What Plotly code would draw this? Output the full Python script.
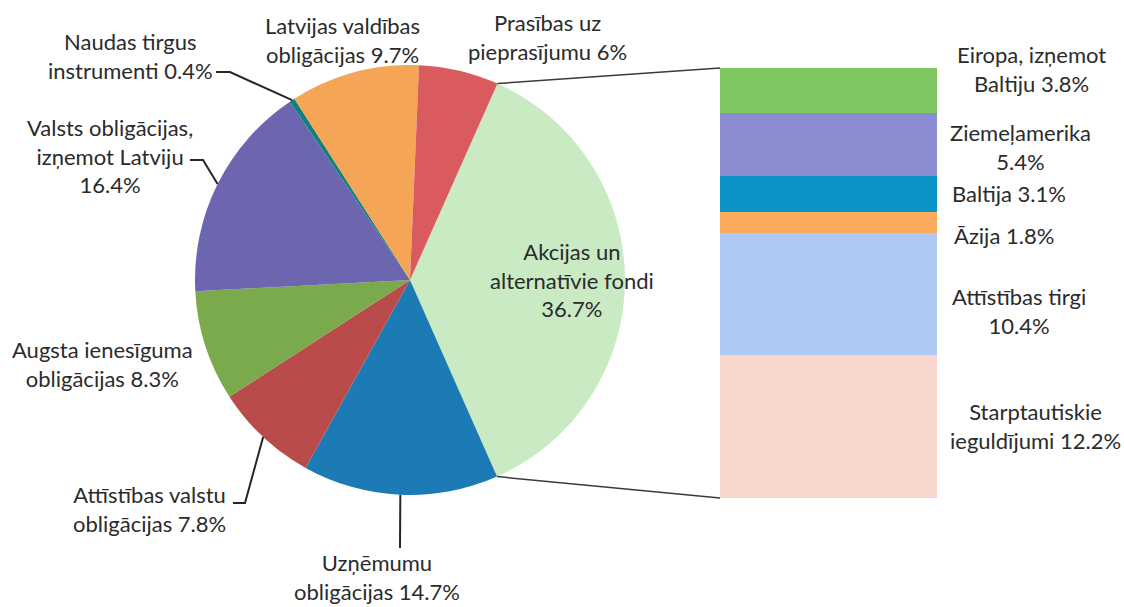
import math
import plotly.graph_objects as go

# ---------------- data ----------------
pie_labels = [
    "Akcijas un<br>alternatīvie fondi",
    "Uzņēmumu<br>obligācijas",
    "Attīstības valstu<br>obligācijas",
    "Augsta ienesīguma<br>obligācijas",
    "Valsts obligācijas,<br>izņemot Latviju",
    "Naudas tirgus<br>instrumenti",
    "Latvijas valdības<br>obligācijas",
    "Prasības uz<br>pieprasījumu",
]
pie_values = [36.7, 14.7, 7.8, 8.3, 16.4, 0.4, 9.7, 6.0]
pie_colors = ["#C9EAC3", "#1C7AB5", "#B94C4B", "#7BAA4C",
              "#6B66AF", "#13807E", "#F4A555", "#DA5B5E"]

bar_labels = [
    "Starptautiskie<br>ieguldījumi",
    "Attīstības tirgi",
    "Āzija",
    "Baltija",
    "Ziemeļamerika",
    "Eiropa, izņemot<br>Baltiju",
]
bar_values = [12.2, 10.4, 1.8, 3.1, 5.4, 3.8]
bar_colors = ["#F8D5CD", "#AFC8F1", "#F9AA5A", "#0B95C7", "#8B8DD3", "#80C661"]

# ---------------- layout constants (pixels) ----------------
W, H = 1124, 607
PIE_CX, PIE_CY, PIE_R = 410, 280, 215
PIE_ROT = 24
BAR_X0, BAR_X1, BAR_TOP, BAR_BOT = 720, 937, 68, 498
FONT = dict(family="Lato, 'Open Sans', sans-serif", size=22, color="#2B2B2B")

def px(x):
    return x / W

def py(y):
    return 1 - y / H

# pie label placement: (x, y, separator before value, leader [start, elbow] or None)
pie_label_pos = [
    (572, 280, "<br>", None),
    (377, 577, " ", [(400, 548)]),
    (149, 509, " ", [(233, 503), (245, 503)]),
    (102, 364, " ", None),
    (110, 156, "<br>", [(190, 160), (203, 160)]),
    (130, 56, " ", [(216, 72), (230, 72)]),
    (342, 40, " ", None),
    (547, 37, " ", None),
]
bar_label_pos = [
    (948, 426, " "),
    (950, 311, "<br>"),
    (952, 235, " "),
    (950, 193, " "),
    (948, 147, "<br>"),
    (955, 69, " "),
]

def fmt(v):
    return f"{v:g}%"

fig = go.Figure()

total_pie = sum(pie_values)
fig.add_trace(go.Pie(
    labels=[l.replace("<br>", " ") for l in pie_labels],
    values=pie_values,
    marker=dict(colors=pie_colors, line=dict(width=0)),
    sort=False,
    direction="clockwise",
    rotation=PIE_ROT,
    textinfo="none",
    hoverinfo="label+percent",
    showlegend=False,
    domain=dict(x=[px(PIE_CX - PIE_R), px(PIE_CX + PIE_R)],
                y=[py(PIE_CY + PIE_R), py(PIE_CY - PIE_R)]),
))

for lab, val, col in zip(bar_labels, bar_values, bar_colors):
    fig.add_trace(go.Bar(
        x=[0], y=[val], width=1,
        marker=dict(color=col, line=dict(width=0)),
        name=lab.replace("<br>", " "),
        showlegend=False,
        hoverinfo="name+y",
    ))

def pie_point(angle_deg):
    a = math.radians(angle_deg)
    return PIE_CX + PIE_R * math.sin(a), PIE_CY - PIE_R * math.cos(a)

shapes = []
annotations = []

# slice angles
cum = 0.0
mid_angles = []
for v in pie_values:
    start = PIE_ROT + 360 * cum / total_pie
    end = PIE_ROT + 360 * (cum + v) / total_pie
    mid_angles.append((start + end) / 2)
    cum += v

# pie labels and leader lines
for lab, val, (x, y, sep, leader), ang in zip(pie_labels, pie_values, pie_label_pos, mid_angles):
    annotations.append(dict(
        x=px(x), y=py(y), xref="paper", yref="paper",
        text=lab + sep + fmt(val), showarrow=False,
        xanchor="center", yanchor="middle", align="center", font=FONT,
    ))
    if leader:
        pts = leader + [pie_point(ang)]
        path = "M " + " L ".join(f"{px(a)},{py(b)}" for a, b in pts)
        shapes.append(dict(type="path", path=path, xref="paper", yref="paper",
                           line=dict(color="#262626", width=2)))

# connector lines pie -> bar
a_top = PIE_ROT
a_bot = PIE_ROT + 360 * pie_values[0] / total_pie
for ang, by in [(a_top, BAR_TOP), (a_bot, BAR_BOT)]:
    x0, y0 = pie_point(ang)
    shapes.append(dict(type="line", xref="paper", yref="paper",
                       x0=px(x0), y0=py(y0), x1=px(BAR_X0), y1=py(by),
                       line=dict(color="#3A3A3A", width=1.5)))

# bar labels
for lab, val, (x, y, sep) in zip(bar_labels, bar_values, bar_label_pos):
    annotations.append(dict(
        x=px(x), y=py(y), xref="paper", yref="paper",
        text=lab + sep + fmt(val), showarrow=False,
        xanchor="left", yanchor="middle", align="center", font=FONT,
    ))

fig.update_layout(
    width=W, height=H,
    margin=dict(l=0, r=0, t=0, b=0),
    paper_bgcolor="white", plot_bgcolor="white",
    barmode="stack", bargap=0,
    xaxis=dict(domain=[px(BAR_X0), px(BAR_X1)], range=[-0.5, 0.5], visible=False, fixedrange=True),
    yaxis=dict(domain=[py(BAR_BOT), py(BAR_TOP)], range=[0, sum(bar_values)], visible=False, fixedrange=True),
    shapes=shapes,
    annotations=annotations,
    font=FONT,
)

fig.write_html(
    "out.html",
    config={"displayModeBar": False},
    post_script="document.body.style.margin='0';document.body.style.overflow='hidden';",
)
